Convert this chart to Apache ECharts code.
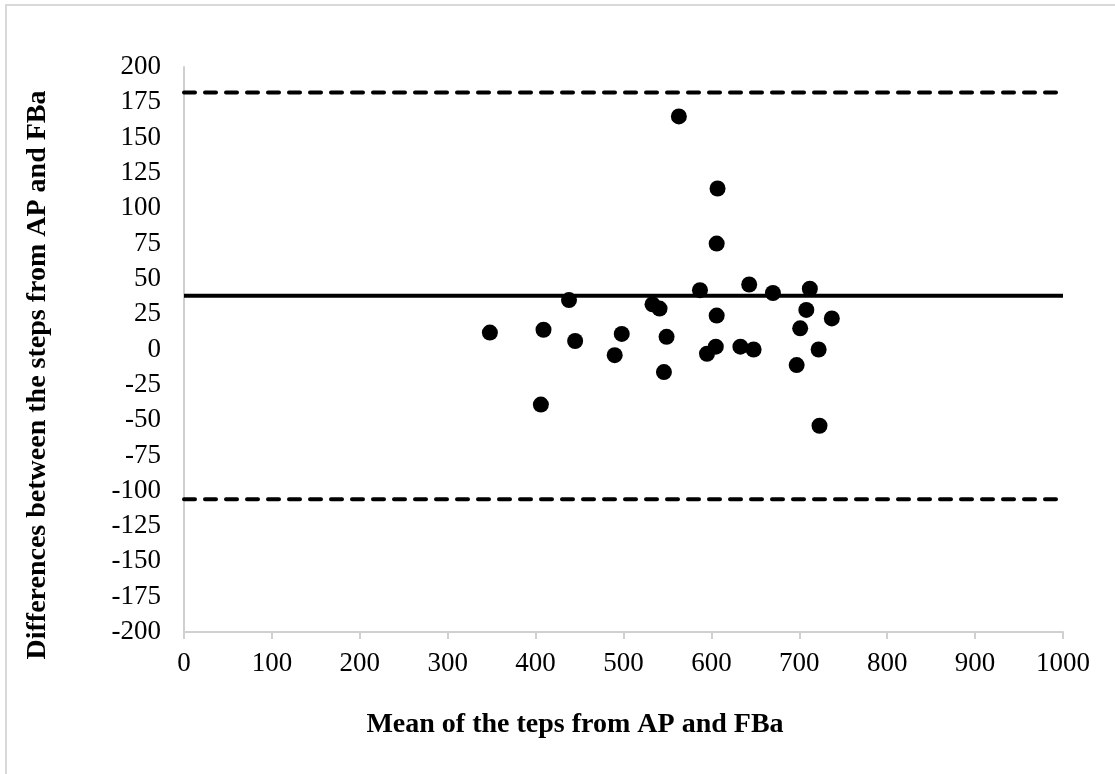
<!DOCTYPE html>
<html lang="en">
  <head>
    <meta charset="UTF-8" />
    <title>Bland-Altman plot</title>
    <script src="https://cdn.jsdelivr.net/npm/echarts@6.0.0/dist/echarts.min.js"></script>
    <style>
      html, body { margin: 0; padding: 0; background: #ffffff; }
    </style>
  </head>
  <body>
    <div id="chart" style="width: 1115px; height: 774px"></div>

    <script type="text/javascript">
      // mean of the two step counts (x) and their difference (y)
      const meanSteps = [
        563, 607, 606, 587, 643, 670, 438, 533, 541, 606,
        348, 409, 445, 498, 490, 549, 546, 605, 595, 633,
        648, 406, 712, 708, 737, 701, 722, 697, 723
      ];
      const diffSteps = [
        165, 114, 75, 42, 46, 40, 35, 32, 29, 24,
        12, 14, 6, 11, -4, 9, -16, 2, -3, 2,
        0, -39, 43, 28, 22, 15, 0, -11, -54
      ];

      // bias and limits of agreement
      const meanDiff = 38;
      const upperLimit = 182;
      const lowerLimit = -106;

      const xTicks = { min: 0, max: 1000, step: 100 };
      const yTicks = { min: -200, max: 200, step: 25 };

      const xTitle = "Mean of the teps from AP and FBa";
      const yTitle = "Differences between the steps from AP and FBa";

      const points = meanSteps.map((m, i) => [m, diffSteps[i]]);
      const hLine = (v) => [[xTicks.min, v], [xTicks.max, v]];

      const chart = echarts.init(document.getElementById("chart"));
      const font = "'Liberation Serif', 'Times New Roman', serif";
      const titleFont = "bold 28px " + font;
      const axisGray = "#d0d0d0";

      const option = {
        animation: false,
        backgroundColor: "#ffffff",
        // titles are placed by hand: in the original they sit off the plot centre
        graphic: [
          {
            type: "rect",
            shape: { x: 6, y: 5, width: 1200, height: 900 },
            style: { fill: "none", stroke: "#d9d9d9", lineWidth: 2 },
            silent: true,
          },
          {
            type: "text",
            x: 575,
            y: 725,
            style: { text: xTitle, font: titleFont, fill: "#000", align: "center", verticalAlign: "middle" },
          },
          {
            type: "text",
            x: 38,
            y: 375,
            rotation: Math.PI / 2,
            style: { text: yTitle, font: titleFont, fill: "#000", align: "center", verticalAlign: "middle" },
          },
        ],
        grid: { left: 184, right: 52, top: 67, bottom: 142 },
        xAxis: {
          type: "value",
          min: xTicks.min,
          max: xTicks.max,
          interval: xTicks.step,
          axisLine: { onZero: false, lineStyle: { color: axisGray, width: 2 } },
          axisTick: { show: true, length: 7, lineStyle: { color: axisGray, width: 2 } },
          axisLabel: {
            fontFamily: font,
            fontSize: 27,
            color: "#000",
            margin: 18,
            formatter: (v) => String(v),
          },
          splitLine: { show: false },
        },
        yAxis: {
          type: "value",
          min: yTicks.min,
          max: yTicks.max,
          interval: yTicks.step,
          axisLine: { show: true, onZero: false, lineStyle: { color: axisGray, width: 2 } },
          axisTick: { show: false },
          axisLabel: { fontFamily: font, fontSize: 27, color: "#000", margin: 23 },
          splitLine: { show: false },
        },
        series: [
          {
            type: "line",
            data: hLine(upperLimit),
            symbol: "none",
            lineStyle: { color: "#000", width: 4, type: [11, 10], cap: "round" },
            silent: true,
          },
          {
            type: "line",
            data: hLine(lowerLimit),
            symbol: "none",
            lineStyle: { color: "#000", width: 4, type: [11, 10], cap: "round" },
            silent: true,
          },
          {
            type: "line",
            data: hLine(meanDiff),
            symbol: "none",
            lineStyle: { color: "#000", width: 4 },
            silent: true,
          },
          {
            type: "scatter",
            data: points,
            symbolSize: 16,
            itemStyle: { color: "#000", opacity: 1 },
          },
        ],
      };

      chart.setOption(option);
    </script>
  </body>
</html>
